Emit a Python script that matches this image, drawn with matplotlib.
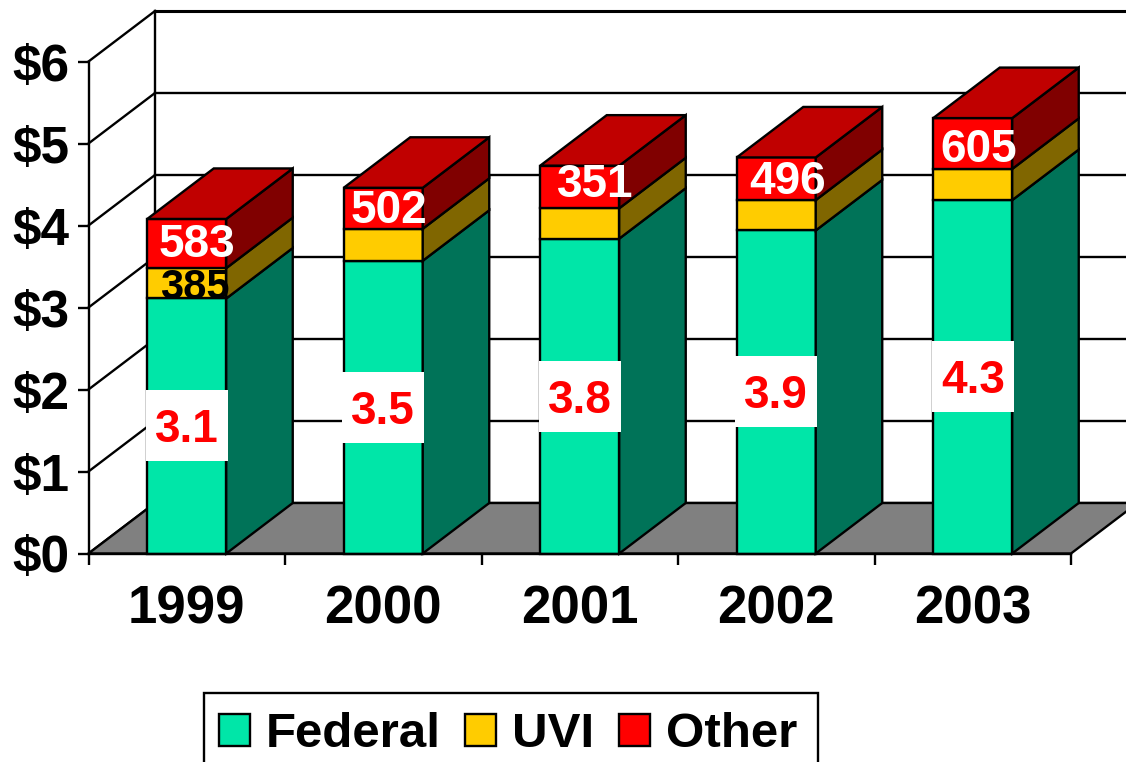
#!/usr/bin/env python3
import matplotlib
matplotlib.use("Agg")
import matplotlib.pyplot as plt
from matplotlib.patches import Patch, Polygon, Rectangle

W, H = 1126, 762
plt.rcParams['font.family'] = ['Liberation Sans', 'DejaVu Sans']

# -------------------- DATA --------------------
years = ['1999', '2000', '2001', '2002', '2003']
federal = [3.11, 3.57, 3.84, 3.94, 4.31]
uvi = [0.37, 0.39, 0.37, 0.37, 0.38]
other = [0.60, 0.50, 0.52, 0.52, 0.62]
federal_labels = ['3.1', '3.5', '3.8', '3.9', '4.3']
uvi_labels = ['385', '', '', '', '']
other_labels = ['583', '502', '351', '496', '605']
y_ticks = [0, 1, 2, 3, 4, 5, 6]
y_labels = ['$0', '$1', '$2', '$3', '$4', '$5', '$6']

# -------------------- STYLE --------------------
front = ['#00E6A8', '#FFCC00', '#FF0000']
side = ['#007358', '#806600', '#800000']
top_col = '#C00000'
LW = 1.7
PX_X = 196.5   # pixels per category
PX_Y = 82.0    # pixels per dollar
DX = 66.5 / PX_X
DY = 50.5 / PX_Y
BAR_W = 79 / PX_X
# label nudges in pixels, the source labels sit off centre
other_dx = [10, 6, 15, 11, 6]
other_dy = [4, 2, 7, 2, -1]

fig = plt.figure(figsize=(W / 100, H / 100), dpi=100)
ax = fig.add_axes([88.5 / W, 1 - 553.5 / H, 982.5 / W, 492 / H])
ax.set_xlim(0, 5)
ax.set_ylim(0, 6)
ax.patch.set_visible(False)
for name in ['top', 'right']:
    ax.spines[name].set_visible(False)
for name in ['left', 'bottom']:
    ax.spines[name].set_linewidth(LW)
    ax.spines[name].set_zorder(6)

# walls
ax.plot([DX, DX], [DY, 6 + DY], color='k', lw=LW, clip_on=False, zorder=1)
for v in y_ticks:
    ax.plot([0, DX], [v, v + DY], color='k', lw=LW, clip_on=False, zorder=1)
    ax.plot([DX, 5 + DX + 1], [v + DY, v + DY], color='k', lw=LW * (1.3 if v == 6 else 1), clip_on=False, zorder=1)
ax.add_patch(Polygon([(0, 0), (DX, DY), (5 + DX, DY), (5, 0)], closed=True, fc='#808080', ec='k', lw=LW,
                     clip_on=False, zorder=2))

# bars
for i in range(len(years)):
    x0 = i + 0.5 - BAR_W / 2
    x1 = x0 + BAR_W
    bottom = 0
    for k, vals in enumerate([federal, uvi, other]):
        val = vals[i]
        ax.bar(x0, val, BAR_W, bottom=bottom, align='edge', color=front[k], edgecolor='k', lw=LW,
               clip_on=False, zorder=4)
        ax.add_patch(Polygon([(x1, bottom), (x1 + DX, bottom + DY), (x1 + DX, bottom + val + DY), (x1, bottom + val)],
                             closed=True, fc=side[k], ec='k', lw=LW, clip_on=False, zorder=4))
        bottom += val
    ax.add_patch(Polygon([(x0, bottom), (x0 + DX, bottom + DY), (x1 + DX, bottom + DY), (x1, bottom)],
                         closed=True, fc=top_col, ec='k', lw=LW, clip_on=False, zorder=4))

    # labels
    xc = i + 0.5
    yc = federal[i] / 2
    ax.add_patch(Rectangle((xc - 41 / PX_X, yc - 35.5 / PX_Y), 82 / PX_X, 71 / PX_Y, fc='white', ec='none',
                           zorder=5))
    ax.text(xc, yc + 0.5 / PX_Y, federal_labels[i], color='#FF0000', fontsize=33, fontweight='bold',
            ha='center', va='center_baseline', zorder=7)
    if uvi_labels[i]:
        ax.text(xc + 8 / PX_X, federal[i] + uvi[i] / 2, uvi_labels[i], color='k', fontsize=30,
                fontweight='bold', ha='center', va='center_baseline', zorder=7)
    ax.text(xc + other_dx[i] / PX_X, federal[i] + uvi[i] + other[i] / 2 + other_dy[i] / PX_Y, other_labels[i],
            color='white', fontsize=33, fontweight='bold', ha='center', va='center_baseline', zorder=7)

# axes
ax.set_yticks(y_ticks)
ax.set_yticklabels(y_labels, fontsize=37, fontweight='bold')
ax.tick_params(axis='y', length=8, width=LW, pad=5.5)
ax.set_xticks(range(6))
ax.set_xticklabels([])
ax.tick_params(axis='x', which='major', length=8, width=LW)
ax.set_xticks([i + 0.5 for i in range(5)], minor=True)
ax.set_xticklabels(years, minor=True, fontsize=38, fontweight='bold')
ax.tick_params(axis='x', which='minor', length=0, pad=22)

# legend, the frame runs off the bottom of the picture so it is its own patch
fig.add_artist(Rectangle((204 / W, 1 - 780 / H), 614 / W, 87 / H, transform=fig.transFigure, fc='white', ec='k',
                         lw=LW, zorder=3))
handles = [Patch(fc=front[k], ec='k', lw=LW, label=n) for k, n in enumerate(['Federal', 'UVI', 'Other'])]
leg = fig.legend(handles=handles, ncol=3, loc='upper left', bbox_to_anchor=(219 / W, 1 - 712 / H),
                 prop={'weight': 'bold', 'size': 35.5}, frameon=False,
                 handlelength=0.62, handleheight=0.62, handletextpad=0.33, columnspacing=0.5, borderpad=0,
                 borderaxespad=0)
leg.set_zorder(4)

fig.savefig('out.png', dpi=100)
